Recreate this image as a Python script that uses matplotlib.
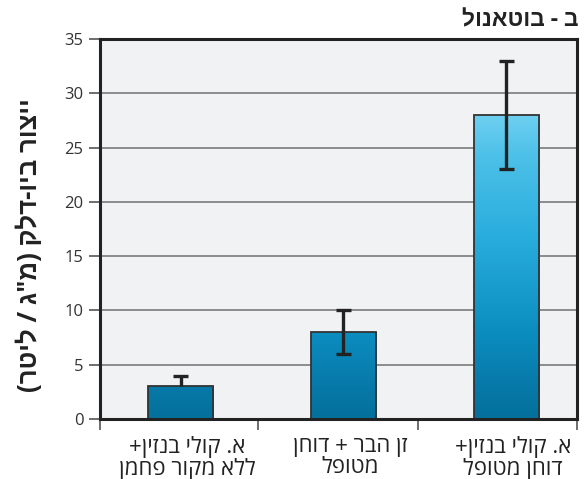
import numpy as np
import matplotlib
matplotlib.use("Agg")
import matplotlib.pyplot as plt
from matplotlib.colors import LinearSegmentedColormap

plt.rcParams['font.family'] = ['Open Sans', 'Liberation Sans', 'DejaVu Sans']


def rtl(s):
    # matplotlib lays text out left-to-right, so flip each Hebrew line
    mirror = {'(': ')', ')': '('}
    return '\n'.join(''.join(mirror.get(c, c) for c in reversed(line))
                     for line in s.split('\n'))


categories = ['א. קולי בנזין+\nללא מקור פחמן',
              'זן הבר + דוחן\nמטופל',
              'א. קולי בנזין+\nדוחן מטופל']
values = [3, 8, 28]
err_low = [0, 2, 5]
err_high = [1, 2, 5]
title = 'ב - בוטאנול'
ylabel = 'ייצור ביו-דלק (מ"ג / ליטר)'

fig = plt.figure(figsize=(5.85, 4.79), dpi=100)
ax = fig.add_axes([100 / 585, 1 - 419 / 479, 477 / 585, 380 / 479])
ax.set_facecolor('#f1f2f4')

x = np.arange(len(values))
width = 0.40
bars = ax.bar(x, values, width=width, facecolor='none', edgecolor='#333333',
              linewidth=1.3, zorder=4)

# vertical blue gradient, dark at the base and lighter higher up
cmap = LinearSegmentedColormap.from_list(
    'blue', [(0.0, '#04709b'), (0.1, '#0779a8'), (0.28, '#0b8dc0'),
             (0.6, '#2aaede'), (0.85, '#4cc0e8'), (1.0, '#72d2f2')])
grad = np.linspace(0, 1, 256).reshape(-1, 1)
for bar in bars:
    bx, bw, bh = bar.get_x(), bar.get_width(), bar.get_height()
    img = ax.imshow(grad * bh / 28.5, cmap=cmap, vmin=0, vmax=1,
                    extent=[bx, bx + bw, 0, bh], origin='lower',
                    aspect='auto', zorder=3)
    img.set_clip_path(bar)

# error bars: whisker plus a cap only on the ends that exist
cap = 0.045
for xi, v, lo, hi in zip(x, values, err_low, err_high):
    ax.vlines(xi, v - lo, v + hi, color='#222222', linewidth=2.4, zorder=5)
    for end, size in ((v + hi, hi), (v - lo, lo)):
        if size > 0:
            ax.hlines(end, xi - cap, xi + cap, color='#222222',
                      linewidth=2.4, zorder=5)

ax.set_xlim(-0.494, 2.433)
ax.set_ylim(0, 35)
ax.set_yticks(range(0, 36, 5))
ax.yaxis.grid(True, color='#7a7a7a', linewidth=1.2, zorder=1)
ax.set_axisbelow(True)

# category separators on the x axis, labels under each bar
ax.set_xticks([-0.494, 0.475, 1.457, 2.433])
ax.set_xticklabels([])
ax.tick_params(axis='x', direction='out', length=8, width=1.2, color='#555555')
ax.tick_params(axis='y', direction='out', length=8, width=1.2, color='#555555',
               labelsize=12, labelcolor='#333333', pad=4)
for xi, lab in zip(x, categories):
    ax.text(xi + 0.04, -1.6, rtl(lab), ha='center', va='top', fontsize=16,
            color='#222222', linespacing=0.95)

for side in ['left', 'top', 'right', 'bottom']:
    ax.spines[side].set_color('#222222')
    ax.spines[side].set_linewidth(2.2)
    ax.spines[side].set_zorder(6)

fig.text(578 / 585, 1 - 20 / 479, rtl(title), ha='right', va='center',
         fontsize=16.5, fontweight='bold', color='#222222')
fig.text(30 / 585, 1 - 245 / 479, rtl(ylabel), ha='center', va='center',
         rotation=90, fontsize=18.5, fontweight='bold', color='#222222')

fig.savefig('out.png', dpi=100)
